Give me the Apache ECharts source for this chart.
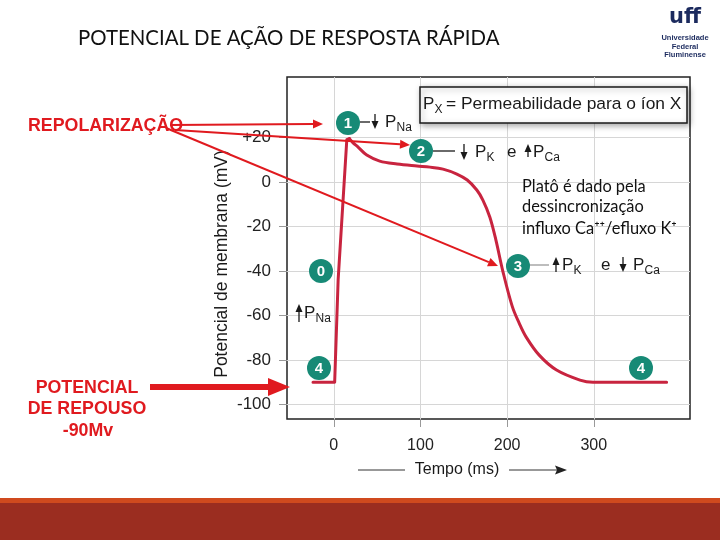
<!DOCTYPE html>
<html>
<head>
<meta charset="utf-8">
<script src="https://cdn.jsdelivr.net/npm/echarts@6/dist/echarts.min.js"></script>
<style>
  html, body { margin: 0; padding: 0; background: #fff; }
  #chart { width: 720px; height: 540px; }
</style>
</head>
<body>
<div id="chart"></div>
<script>
// dados (tempo em ms, potencial em mV)
const timeMs = [-24, 1, 5, 15, 18, 22, 28, 38, 53, 73, 96, 111, 126, 142, 154, 165, 172, 180, 187, 195, 206, 214, 222, 237, 257, 284, 299, 384];
const potentialMv = [-90, -90, -44, 19, 19.5, 17.7, 15.7, 12.1, 9.4, 8.1, 7.2, 6.7, 5.8, 3.6, 0.9, -3.6, -8.1, -15.7, -26, -40, -56, -63.5, -69.7, -77.8, -84.5, -89, -90, -90];
const peakIndex = 4; // fim da fase 0 (despolarização rápida)
const yTicks = [-100, -80, -60, -40, -20, 0, 20];
const xTicks = [0, 100, 200, 300];

const RED = '#e01a1f';
const TEAL = '#178a76';
const CURVE = '#c8243f';
const INK = '#1a1a1a';

function badge(cx, cy, n) {
    return [
        { type: 'circle', shape: { cx: cx, cy: cy, r: 12 }, style: { fill: TEAL }, z: 20 },
        { type: 'text', x: cx, y: cy + 1, z: 21, style: { text: n, fill: '#fff', font: 'bold 15px "Liberation Sans"', align: 'center', verticalAlign: 'middle' } }
    ];
}

function vArrow(x, y1, y2, up) {
    const tip = up ? y1 : y2;
    const d = up ? 1 : -1;
    return [
        { type: 'line', z: 20, shape: { x1: x, y1: up ? y1 + 5 : y1, x2: x, y2: up ? y2 : y2 - 5 }, style: { stroke: INK, lineWidth: 1.3 } },
        { type: 'polygon', z: 20, shape: { points: [[x, tip], [x - 3.5, tip + d * 8], [x + 3.5, tip + d * 8]] }, style: { fill: INK } }
    ];
}

function perm(x, y, sub) {
    return [
        { type: 'text', x: x, y: y, z: 20, style: { text: 'P', fill: INK, font: '17px "Liberation Sans"', verticalAlign: 'middle' } },
        { type: 'text', x: x + 11.5, y: y + 6, z: 20, style: { text: sub, fill: INK, font: '12px "Liberation Sans"', verticalAlign: 'middle' } }
    ];
}

function word(x, y, t, size) {
    return { type: 'text', x: x, y: y, z: 20, style: { text: t, fill: INK, font: (size || 17) + 'px "Liberation Sans"', verticalAlign: 'middle' } };
}

function hLine(x1, x2, y, color) {
    return { type: 'line', z: 20, shape: { x1: x1, y1: y, x2: x2, y2: y }, style: { stroke: color, lineWidth: 1.3 } };
}

function redArrow(x1, y1, x2, y2, lw, hl, hw) {
    const dx = x2 - x1, dy = y2 - y1, L = Math.hypot(dx, dy);
    const ux = dx / L, uy = dy / L;
    const bx = x2 - ux * hl, by = y2 - uy * hl;
    return [
        { type: 'line', z: 30, shape: { x1: x1, y1: y1, x2: bx, y2: by }, style: { stroke: RED, lineWidth: lw } },
        { type: 'polygon', z: 30, shape: { points: [[x2, y2], [bx - uy * hw, by + ux * hw], [bx + uy * hw, by - ux * hw]] }, style: { fill: RED } }
    ];
}

function redText(x, y, t, align) {
    return { type: 'text', x: x, y: y, z: 30, style: { text: t, fill: RED, font: 'bold 17.8px "Liberation Sans"', align: align, verticalAlign: 'middle' } };
}

const elements = [].concat(
    // título
    [{ type: 'text', x: 78, y: 38, style: { text: 'POTENCIAL DE AÇÃO DE RESPOSTA RÁPIDA', fill: '#111', font: '20.4px Lato', verticalAlign: 'middle' } }],
    // logo
    [
        { type: 'text', x: 685, y: 18, style: { text: 'uff', fill: '#1b2a5e', font: 'bold 21px "DejaVu Sans"', align: 'center', verticalAlign: 'middle' } },
        { type: 'text', x: 685, y: 38, style: { text: 'Universidade', fill: '#1b2a5e', font: 'bold 7.5px "Liberation Sans"', align: 'center', verticalAlign: 'middle' } },
        { type: 'text', x: 685, y: 46.5, style: { text: 'Federal', fill: '#1b2a5e', font: 'bold 7.5px "Liberation Sans"', align: 'center', verticalAlign: 'middle' } },
        { type: 'text', x: 685, y: 55, style: { text: 'Fluminense', fill: '#1b2a5e', font: 'bold 7.5px "Liberation Sans"', align: 'center', verticalAlign: 'middle' } }
    ],
    // eixo vertical (nome)
    [{ type: 'text', x: 222, y: 264, rotation: Math.PI / 2, style: { text: 'Potencial de membrana (mV)', fill: INK, font: '17.5px "Liberation Sans"', align: 'center', verticalAlign: 'middle' } }],
    // caixa P_X
    [
        { type: 'rect', z: 15, shape: { x: 420, y: 87, width: 267, height: 36 }, style: { fill: '#fff', stroke: INK, lineWidth: 1.5, shadowBlur: 6, shadowOffsetX: 2, shadowOffsetY: 2, shadowColor: 'rgba(0,0,0,0.35)' } }
    ],
    perm(423, 104, 'X'),
    [word(446, 104, '= Permeabilidade para o íon X', 17.4)],
    // fase 1
    badge(348, 123, '1'),
    [hLine(360, 370, 122, INK)],
    vArrow(375, 114, 129, false),
    perm(385, 122, 'Na'),
    // fase 2
    badge(421, 151, '2'),
    [hLine(433, 455, 151, INK)],
    vArrow(464, 144, 160, false),
    perm(475, 152, 'K'),
    [word(507, 152, 'e')],
    vArrow(528, 144, 157, true),
    perm(533, 152, 'Ca'),
    // fase 3
    badge(518, 266, '3'),
    [hLine(530, 549, 265, '#999')],
    vArrow(556, 257, 272, true),
    perm(562, 265, 'K'),
    [word(601, 265, 'e')],
    vArrow(623, 257, 272, false),
    perm(633, 265, 'Ca'),
    // fases 0 e 4
    badge(321, 271, '0'),
    vArrow(299, 304, 322, true),
    perm(304, 313, 'Na'),
    badge(319, 368, '4'),
    badge(641, 368, '4'),
    // texto do platô
    [
        { type: 'text', x: 522, y: 187, z: 20, style: { text: 'Platô é dado pela', fill: '#111', font: '16.4px Lato', verticalAlign: 'middle' } },
        { type: 'text', x: 522, y: 207, z: 20, style: { text: 'dessincronização', fill: '#111', font: '16.4px Lato', verticalAlign: 'middle' } },
        { type: 'text', x: 522, y: 229, z: 20, style: { text: 'influxo Ca⁺⁺/efluxo K⁺', fill: '#111', font: '16.4px Lato', verticalAlign: 'middle' } }
    ],
    // eixo do tempo
    [
        { type: 'text', x: 457, y: 470, style: { text: 'Tempo (ms)', fill: INK, font: '16px "Liberation Sans"', align: 'center', verticalAlign: 'middle' } },
        { type: 'line', shape: { x1: 358, y1: 470, x2: 405, y2: 470 }, style: { stroke: '#333', lineWidth: 1 } },
        { type: 'line', shape: { x1: 509, y1: 470, x2: 558, y2: 470 }, style: { stroke: '#333', lineWidth: 1 } },
        { type: 'polygon', shape: { points: [[567, 470], [555, 465.5], [557, 470], [555, 474.5]] }, style: { fill: '#222' } }
    ],
    // anotações em vermelho
    [redText(28, 126, 'REPOLARIZAÇÃO', 'left')],
    redArrow(170, 125, 323, 124, 2, 10, 4.5),
    redArrow(175, 130, 410, 145, 2, 10, 4.5),
    redArrow(166, 128, 498, 266, 2, 10, 4.5),
    [
        redText(87, 388, 'POTENCIAL', 'center'),
        redText(87, 409, 'DE REPOUSO', 'center'),
        redText(88, 431, '-90Mv', 'center')
    ],
    redArrow(150, 387, 290, 387, 6, 22, 9),
    // faixa inferior
    [
        { type: 'rect', shape: { x: 0, y: 498, width: 720, height: 5 }, style: { fill: '#d04a1e' } },
        { type: 'rect', shape: { x: 0, y: 503, width: 720, height: 37 }, style: { fill: '#9b2d20' } }
    ]
);

const points = timeMs.map((t, i) => [t, potentialMv[i]]);

const chart = echarts.init(document.getElementById('chart'));

chart.setOption({
    animation: false,
    backgroundColor: '#fff',
    grid: {
        left: 287, top: 77, width: 403, height: 342,
        show: true, borderColor: '#222', borderWidth: 1.5, backgroundColor: '#fff'
    },
    xAxis: {
        type: 'value', min: -54, max: 411,
        axisLine: { show: false, onZero: false },
        axisTick: { show: true, length: 8, customValues: xTicks, lineStyle: { color: '#999' } },
        axisLabel: { customValues: xTicks, margin: 19, color: '#222', fontSize: 16, fontFamily: 'Liberation Sans' },
        splitLine: { show: true, lineStyle: { color: '#d6d6d6', width: 1 } }
    },
    yAxis: {
        type: 'value', min: -106.5, max: 47.2,
        axisLine: { show: false, onZero: false },
        axisTick: { show: true, length: 8, customValues: yTicks, lineStyle: { color: '#999' } },
        axisLabel: {
            customValues: yTicks, margin: 16, color: '#222', fontSize: 17, fontFamily: 'Liberation Sans',
            formatter: v => (v > 0 ? '+' + v : String(v))
        },
        splitLine: { show: true, lineStyle: { color: '#d6d6d6', width: 1 } }
    },
    series: [{
        // repouso + despolarização: segmentos retos
        type: 'line',
        data: points.slice(0, peakIndex + 1),
        symbol: 'none',
        smooth: false,
        lineStyle: { color: CURVE, width: 3, join: 'round', cap: 'round' },
        z: 5
    }, {
        // platô + repolarização: curva suave
        type: 'line',
        data: points.slice(peakIndex),
        symbol: 'none',
        smooth: 0.35,
        lineStyle: { color: CURVE, width: 3, join: 'round', cap: 'round' },
        z: 5
    }],
    graphic: { elements: elements }
});
</script>
</body>
</html>
